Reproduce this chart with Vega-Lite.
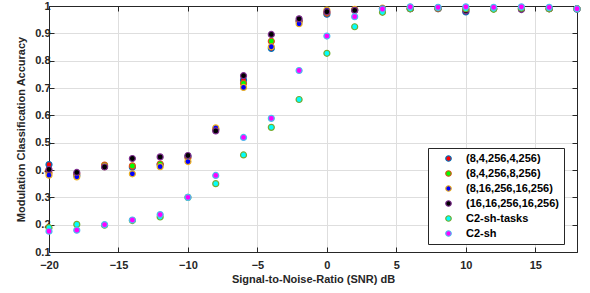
{
  "$schema": "https://vega.github.io/schema/vega-lite/v6.json",
  "autosize": "none",
  "width": 528,
  "height": 246,
  "padding": {"left": 49, "top": 6, "right": 13, "bottom": 41},
  "background": "white",
  "config": {
    "font": "Liberation Sans",
    "view": {"stroke": "#262626", "strokeWidth": 1},
    "axis": {
      "labelFont": "Liberation Sans", "labelFontWeight": "bold", "labelFontSize": 11, "labelColor": "#262626", "labelFlush": false,
      "titleFont": "Liberation Sans", "titleFontWeight": "bold", "titleFontSize": 11, "titleColor": "#262626",
      "domainColor": "#262626", "tickColor": "#262626", "tickSize": -5, "gridColor": "#dedede", "gridWidth": 1
    },
    "legend": {
      "orient": "none", "legendX": 379, "legendY": 142,
      "strokeColor": "#262626", "fillColor": "white", "padding": 5,
      "labelFont": "Liberation Sans", "labelFontWeight": "bold", "labelFontSize": 11, "labelColor": "#000000",
      "symbolSize": 30, "symbolStrokeWidth": 1.2, "symbolOffset": 10, "labelOffset": 12, "rowPadding": 3,
      "title": null, "symbolType": "circle"
    }
  },
  "data": {"values": [
    {"snr": -20, "series": "(8,4,256,4,256)", "acc": 0.42},
    {"snr": -18, "series": "(8,4,256,4,256)", "acc": 0.38},
    {"snr": -16, "series": "(8,4,256,4,256)", "acc": 0.415},
    {"snr": -14, "series": "(8,4,256,4,256)", "acc": 0.41},
    {"snr": -12, "series": "(8,4,256,4,256)", "acc": 0.42},
    {"snr": -10, "series": "(8,4,256,4,256)", "acc": 0.45},
    {"snr": -8, "series": "(8,4,256,4,256)", "acc": 0.55},
    {"snr": -6, "series": "(8,4,256,4,256)", "acc": 0.729},
    {"snr": -4, "series": "(8,4,256,4,256)", "acc": 0.845},
    {"snr": -2, "series": "(8,4,256,4,256)", "acc": 0.945},
    {"snr": 0, "series": "(8,4,256,4,256)", "acc": 0.97},
    {"snr": 2, "series": "(8,4,256,4,256)", "acc": 0.985},
    {"snr": 4, "series": "(8,4,256,4,256)", "acc": 0.99},
    {"snr": 6, "series": "(8,4,256,4,256)", "acc": 0.99},
    {"snr": 8, "series": "(8,4,256,4,256)", "acc": 0.99},
    {"snr": 10, "series": "(8,4,256,4,256)", "acc": 0.978},
    {"snr": 12, "series": "(8,4,256,4,256)", "acc": 0.99},
    {"snr": 14, "series": "(8,4,256,4,256)", "acc": 0.99},
    {"snr": 16, "series": "(8,4,256,4,256)", "acc": 0.99},
    {"snr": 18, "series": "(8,4,256,4,256)", "acc": 0.988},

    {"snr": -20, "series": "(8,4,256,8,256)", "acc": 0.39},
    {"snr": -18, "series": "(8,4,256,8,256)", "acc": 0.385},
    {"snr": -16, "series": "(8,4,256,8,256)", "acc": 0.418},
    {"snr": -14, "series": "(8,4,256,8,256)", "acc": 0.415},
    {"snr": -12, "series": "(8,4,256,8,256)", "acc": 0.422},
    {"snr": -10, "series": "(8,4,256,8,256)", "acc": 0.445},
    {"snr": -8, "series": "(8,4,256,8,256)", "acc": 0.548},
    {"snr": -6, "series": "(8,4,256,8,256)", "acc": 0.717},
    {"snr": -4, "series": "(8,4,256,8,256)", "acc": 0.871},
    {"snr": -2, "series": "(8,4,256,8,256)", "acc": 0.945},
    {"snr": 0, "series": "(8,4,256,8,256)", "acc": 0.975},
    {"snr": 2, "series": "(8,4,256,8,256)", "acc": 0.985},
    {"snr": 4, "series": "(8,4,256,8,256)", "acc": 0.99},
    {"snr": 6, "series": "(8,4,256,8,256)", "acc": 0.99},
    {"snr": 8, "series": "(8,4,256,8,256)", "acc": 0.99},
    {"snr": 10, "series": "(8,4,256,8,256)", "acc": 0.985},
    {"snr": 12, "series": "(8,4,256,8,256)", "acc": 0.99},
    {"snr": 14, "series": "(8,4,256,8,256)", "acc": 0.99},
    {"snr": 16, "series": "(8,4,256,8,256)", "acc": 0.99},
    {"snr": 18, "series": "(8,4,256,8,256)", "acc": 0.99},

    {"snr": -20, "series": "(8,16,256,16,256)", "acc": 0.381},
    {"snr": -18, "series": "(8,16,256,16,256)", "acc": 0.375},
    {"snr": -16, "series": "(8,16,256,16,256)", "acc": 0.412},
    {"snr": -14, "series": "(8,16,256,16,256)", "acc": 0.386},
    {"snr": -12, "series": "(8,16,256,16,256)", "acc": 0.412},
    {"snr": -10, "series": "(8,16,256,16,256)", "acc": 0.431},
    {"snr": -8, "series": "(8,16,256,16,256)", "acc": 0.554},
    {"snr": -6, "series": "(8,16,256,16,256)", "acc": 0.702},
    {"snr": -4, "series": "(8,16,256,16,256)", "acc": 0.851},
    {"snr": -2, "series": "(8,16,256,16,256)", "acc": 0.935},
    {"snr": 0, "series": "(8,16,256,16,256)", "acc": 0.985},
    {"snr": 2, "series": "(8,16,256,16,256)", "acc": 0.988},
    {"snr": 4, "series": "(8,16,256,16,256)", "acc": 0.992},
    {"snr": 6, "series": "(8,16,256,16,256)", "acc": 0.995},
    {"snr": 8, "series": "(8,16,256,16,256)", "acc": 0.992},
    {"snr": 10, "series": "(8,16,256,16,256)", "acc": 0.99},
    {"snr": 12, "series": "(8,16,256,16,256)", "acc": 0.99},
    {"snr": 14, "series": "(8,16,256,16,256)", "acc": 0.993},
    {"snr": 16, "series": "(8,16,256,16,256)", "acc": 0.99},
    {"snr": 18, "series": "(8,16,256,16,256)", "acc": 0.99},

    {"snr": -20, "series": "(16,16,256,16,256)", "acc": 0.402},
    {"snr": -18, "series": "(16,16,256,16,256)", "acc": 0.391},
    {"snr": -16, "series": "(16,16,256,16,256)", "acc": 0.411},
    {"snr": -14, "series": "(16,16,256,16,256)", "acc": 0.442},
    {"snr": -12, "series": "(16,16,256,16,256)", "acc": 0.448},
    {"snr": -10, "series": "(16,16,256,16,256)", "acc": 0.453},
    {"snr": -8, "series": "(16,16,256,16,256)", "acc": 0.543},
    {"snr": -6, "series": "(16,16,256,16,256)", "acc": 0.745},
    {"snr": -4, "series": "(16,16,256,16,256)", "acc": 0.896},
    {"snr": -2, "series": "(16,16,256,16,256)", "acc": 0.953},
    {"snr": 0, "series": "(16,16,256,16,256)", "acc": 0.979},
    {"snr": 2, "series": "(16,16,256,16,256)", "acc": 0.984},
    {"snr": 4, "series": "(16,16,256,16,256)", "acc": 0.99},
    {"snr": 6, "series": "(16,16,256,16,256)", "acc": 0.99},
    {"snr": 8, "series": "(16,16,256,16,256)", "acc": 0.992},
    {"snr": 10, "series": "(16,16,256,16,256)", "acc": 0.983},
    {"snr": 12, "series": "(16,16,256,16,256)", "acc": 0.99},
    {"snr": 14, "series": "(16,16,256,16,256)", "acc": 0.987},
    {"snr": 16, "series": "(16,16,256,16,256)", "acc": 0.99},
    {"snr": 18, "series": "(16,16,256,16,256)", "acc": 0.99},

    {"snr": -20, "series": "C2-sh-tasks", "acc": 0.189},
    {"snr": -18, "series": "C2-sh-tasks", "acc": 0.201},
    {"snr": -16, "series": "C2-sh-tasks", "acc": 0.198},
    {"snr": -14, "series": "C2-sh-tasks", "acc": 0.215},
    {"snr": -12, "series": "C2-sh-tasks", "acc": 0.228},
    {"snr": -10, "series": "C2-sh-tasks", "acc": 0.30},
    {"snr": -8, "series": "C2-sh-tasks", "acc": 0.35},
    {"snr": -6, "series": "C2-sh-tasks", "acc": 0.455},
    {"snr": -4, "series": "C2-sh-tasks", "acc": 0.556},
    {"snr": -2, "series": "C2-sh-tasks", "acc": 0.658},
    {"snr": 0, "series": "C2-sh-tasks", "acc": 0.827},
    {"snr": 2, "series": "C2-sh-tasks", "acc": 0.924},
    {"snr": 4, "series": "C2-sh-tasks", "acc": 0.977},
    {"snr": 6, "series": "C2-sh-tasks", "acc": 0.99},
    {"snr": 8, "series": "C2-sh-tasks", "acc": 0.993},
    {"snr": 10, "series": "C2-sh-tasks", "acc": 0.99},
    {"snr": 12, "series": "C2-sh-tasks", "acc": 0.988},
    {"snr": 14, "series": "C2-sh-tasks", "acc": 0.992},
    {"snr": 16, "series": "C2-sh-tasks", "acc": 0.99},
    {"snr": 18, "series": "C2-sh-tasks", "acc": 0.99},

    {"snr": -20, "series": "C2-sh", "acc": 0.176},
    {"snr": -18, "series": "C2-sh", "acc": 0.18},
    {"snr": -16, "series": "C2-sh", "acc": 0.20},
    {"snr": -14, "series": "C2-sh", "acc": 0.217},
    {"snr": -12, "series": "C2-sh", "acc": 0.237},
    {"snr": -10, "series": "C2-sh", "acc": 0.30},
    {"snr": -8, "series": "C2-sh", "acc": 0.38},
    {"snr": -6, "series": "C2-sh", "acc": 0.519},
    {"snr": -4, "series": "C2-sh", "acc": 0.589},
    {"snr": -2, "series": "C2-sh", "acc": 0.764},
    {"snr": 0, "series": "C2-sh", "acc": 0.89},
    {"snr": 2, "series": "C2-sh", "acc": 0.961},
    {"snr": 4, "series": "C2-sh", "acc": 0.989},
    {"snr": 6, "series": "C2-sh", "acc": 0.997},
    {"snr": 8, "series": "C2-sh", "acc": 0.995},
    {"snr": 10, "series": "C2-sh", "acc": 0.997},
    {"snr": 12, "series": "C2-sh", "acc": 0.995},
    {"snr": 14, "series": "C2-sh", "acc": 0.997},
    {"snr": 16, "series": "C2-sh", "acc": 0.995},
    {"snr": 18, "series": "C2-sh", "acc": 0.99}
  ]},
  "layer": [
    {
      "mark": {"type": "point", "filled": true, "size": 36, "strokeWidth": 1.2, "opacity": 1},
      "encoding": {
        "x": {"field": "snr", "type": "quantitative", "scale": {"domain": [-20, 18], "nice": false, "zero": false},
              "axis": {"values": [-20, -15, -10, -5, 0, 5, 10, 15], "title": "Signal-to-Noise-Ratio (SNR) dB", "labelPadding": 12, "titlePadding": 3, "grid": true}},
        "y": {"field": "acc", "type": "quantitative", "scale": {"domain": [0.1, 1], "nice": false, "zero": false},
              "axis": {"values": [0.1, 0.2, 0.3, 0.4, 0.5, 0.6, 0.7, 0.8, 0.9, 1], "labelExpr": "datum.value == 1 ? '1' : format(datum.value, '.1f')", "title": "Modulation Classification Accuracy", "labelPadding": 4, "titlePadding": 8, "grid": true}},
        "fill": {"field": "series", "type": "nominal",
                 "scale": {"domain": ["(8,4,256,4,256)", "(8,4,256,8,256)", "(8,16,256,16,256)", "(16,16,256,16,256)", "C2-sh-tasks", "C2-sh"],
                           "range": ["#ff0000", "#00ff00", "#0000ff", "#000000", "#00ffff", "#ff00ff"]}},
        "stroke": {"field": "series", "type": "nominal",
                   "scale": {"domain": ["(8,4,256,4,256)", "(8,4,256,8,256)", "(8,16,256,16,256)", "(16,16,256,16,256)", "C2-sh-tasks", "C2-sh"],
                             "range": ["#0072BD", "#D95319", "#EDB120", "#7E2F8E", "#77AC30", "#4DBEEE"]}}
      }
    },
    {
      "mark": {"type": "point", "opacity": 0},
      "encoding": {
        "x": {"field": "snr", "type": "quantitative", "scale": {"domain": [-20, 18], "nice": false, "zero": false},
              "axis": {"orient": "top", "values": [-20, -15, -10, -5, 0, 5, 10, 15], "labels": false, "title": null, "grid": false}},
        "y": {"field": "acc", "type": "quantitative", "scale": {"domain": [0.1, 1], "nice": false, "zero": false},
              "axis": {"orient": "right", "values": [0.1, 0.2, 0.3, 0.4, 0.5, 0.6, 0.7, 0.8, 0.9, 1], "labels": false, "title": null, "grid": false}}
      }
    }
  ],
  "resolve": {"axis": {"x": "independent", "y": "independent"}}
}
